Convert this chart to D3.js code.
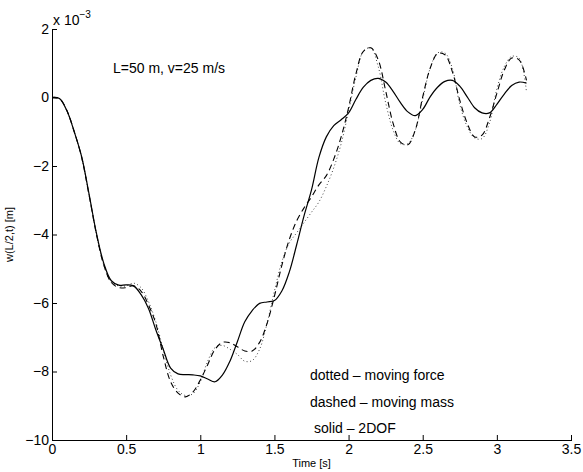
<!DOCTYPE html>
<html>
<head>
  <meta charset="utf-8">
  <title>w(L/2,t)</title>
  <script src="https://d3js.org/d3.v7.min.js"></script>
  <style>
    body { margin: 0; padding: 0; background: white; }
    text { font-family: "Liberation Sans", Arial, Helvetica, sans-serif; fill: black; }
    .axis text { font-size: 14px; }
    .axis path, .axis line { stroke: black; stroke-width: 1; }
    .note { font-size: 14px; }
    .label { font-size: 11px; }
  </style>
</head>
<body>
<div id="chart"></div>
<script>
// time samples [s]
var time = d3.range(0, 65).map(function(i) { return +(i * 0.05).toFixed(2); });

// midspan deflection, units of 1e-3 m
var movingForce = [0, -0.03, -0.38, -1.0, -1.75, -2.85, -4.0, -4.9, -5.4, -5.5,
  -5.5, -5.42, -5.55, -5.95, -6.55, -7.35, -8.1, -8.55, -8.7, -8.65,
  -8.3, -7.7, -7.3, -7.24, -7.35, -7.5, -7.7, -7.68, -7.35, -6.6,
  -5.65, -4.8, -4.25, -3.95, -3.65, -3.35, -3.05, -2.6, -2.05, -1.35,
  -0.4, 0.6, 1.35, 1.45, 0.9, -0.15, -0.95, -1.35, -1.35, -0.95,
  -0.05, 0.85, 1.3, 1.3, 0.85, -0.2, -0.85, -1.18, -1.2, -0.75,
  0.25, 0.9, 1.2, 1.15, 0.15];

var movingMass = [0, -0.03, -0.38, -1.0, -1.75, -2.85, -4.0, -4.9, -5.4, -5.55,
  -5.55, -5.5, -5.65, -6.05, -6.6, -7.55, -8.3, -8.63, -8.74, -8.6,
  -8.25, -7.8, -7.35, -7.15, -7.16, -7.28, -7.4, -7.4, -7.15, -6.6,
  -5.8, -4.9, -4.15, -3.6, -3.22, -2.9, -2.55, -2.28, -1.8, -1.15,
  -0.3, 0.7, 1.35, 1.45, 1.1, 0.2, -0.75, -1.3, -1.38, -0.95,
  0.02, 0.85, 1.28, 1.25, 0.75, -0.08, -0.75, -1.15, -1.1, -0.6,
  0.12, 0.8, 1.15, 1.1, 0.5];

var twoDof = [0, -0.03, -0.38, -1.0, -1.73, -2.82, -3.97, -4.85, -5.35, -5.48,
  -5.47, -5.5, -5.75, -6.15, -6.78, -7.35, -7.9, -8.07, -8.09, -8.1,
  -8.13, -8.22, -8.3, -8.1, -7.7, -7.13, -6.55, -6.22, -6.01, -5.97,
  -5.93, -5.65, -5.1, -4.3, -3.45, -2.7, -1.75, -1.15, -0.82, -0.65,
  -0.45, -0.05, 0.3, 0.5, 0.56, 0.45, 0.18, -0.15, -0.42, -0.53,
  -0.35, 0.02, 0.3, 0.47, 0.5, 0.33, 0.02, -0.3, -0.45, -0.45,
  -0.2, 0.1, 0.35, 0.45, 0.42];

var xTicks = [0, 0.5, 1, 1.5, 2, 2.5, 3, 3.5];
var yTicks = [-10, -8, -6, -4, -2, 0, 2];

var width = 583, height = 472;
var margin = {left: 52, right: 12, top: 29, bottom: 32};

var svg = d3.select("#chart").append("svg")
    .attr("width", width)
    .attr("height", height);

var x = d3.scaleLinear().domain([0, 3.5]).range([margin.left, width - margin.right]);
var y = d3.scaleLinear().domain([-10, 2]).range([height - margin.bottom, margin.top]);

// axes, ticks pointing inward like matlab
svg.append("g")
    .attr("class", "axis")
    .attr("transform", "translate(0," + y(-10) + ")")
    .call(d3.axisBottom(x).tickValues(xTicks).tickFormat(d3.format("")).tickSizeInner(-5).tickSizeOuter(0).tickPadding(4));

svg.append("g")
    .attr("class", "axis")
    .attr("transform", "translate(" + x(0) + ",0)")
    .call(d3.axisLeft(y).tickValues(yTicks).tickSizeInner(-5).tickSizeOuter(0).tickPadding(3));

svg.selectAll(".axis path").attr("shape-rendering", "crispEdges");

// exponent label
var expo = svg.append("text").attr("class", "note")
    .attr("x", x(0) + 1).attr("y", y(2) - 4);
expo.append("tspan").text("x 10");
expo.append("tspan").attr("dy", -7).style("font-size", "10px").text("\u22123");

var line = d3.line()
    .x(function(d, i) { return x(time[i]); })
    .y(function(d) { return y(d); })
    .curve(d3.curveCatmullRom.alpha(0.5));

svg.append("path").datum(movingForce)
    .attr("d", line).attr("fill", "none")
    .attr("stroke", "#444").attr("stroke-width", 1)
    .attr("stroke-dasharray", "1,2.5");

svg.append("path").datum(movingMass)
    .attr("d", line).attr("fill", "none")
    .attr("stroke", "black").attr("stroke-width", 1.1)
    .attr("stroke-dasharray", "6,4");

svg.append("path").datum(twoDof)
    .attr("d", line).attr("fill", "none")
    .attr("stroke", "black").attr("stroke-width", 1.2);

// annotations
svg.append("text").attr("class", "note").attr("x", 113).attr("y", 73).text("L=50 m, v=25 m/s");
svg.append("text").attr("class", "note").attr("x", 310).attr("y", 380).text("dotted \u2013 moving force");
svg.append("text").attr("class", "note").attr("x", 310).attr("y", 407).text("dashed \u2013 moving mass");
svg.append("text").attr("class", "note").attr("x", 314).attr("y", 433).text("solid \u2013 2DOF");

// axis labels
svg.append("text").attr("class", "label")
    .attr("x", (x(0) + x(3.5)) / 2).attr("y", 467)
    .style("text-anchor", "middle")
    .text("Time [s]");

svg.append("text").attr("class", "label")
    .attr("transform", "translate(13," + (y(-10) + y(2)) / 2 + ") rotate(-90)")
    .style("text-anchor", "middle")
    .text("w(L/2,t) [m]");
</script>
</body>
</html>
